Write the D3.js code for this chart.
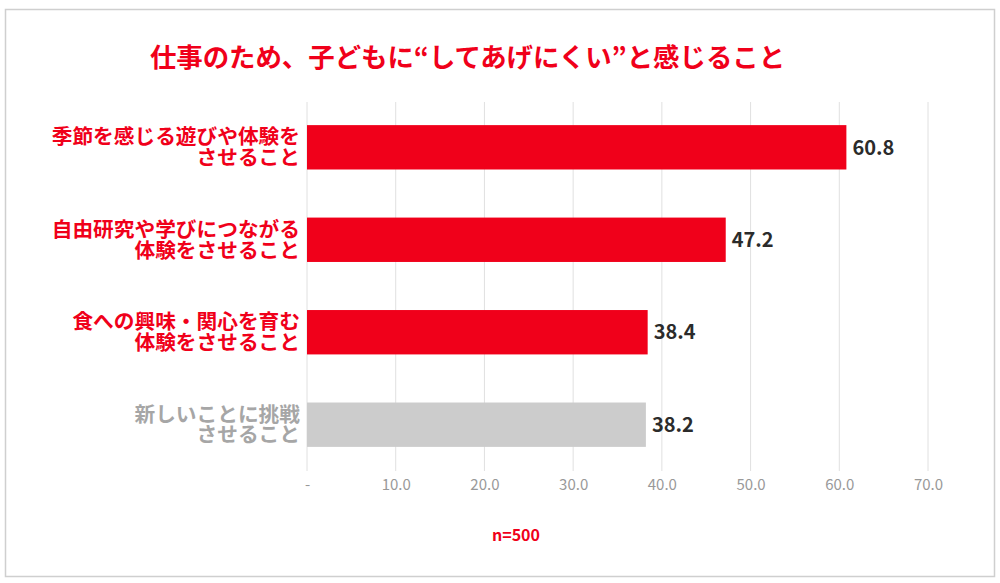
<!DOCTYPE html>
<html>
<head>
<meta charset="utf-8">
<script src="https://cdn.jsdelivr.net/npm/d3@7"></script>
<style>
  body { margin: 0; background: #fff; }
  text { font-family: "Noto Sans CJK JP", "Noto Sans", sans-serif; }
</style>
</head>
<body>
<div id="chart"></div>
<script>
const categories = [
    ["季節を感じる遊びや体験を", "させること"],
    ["自由研究や学びにつながる", "体験をさせること"],
    ["食への興味・関心を育む", "体験をさせること"],
    ["新しいことに挑戦", "させること"]
]
const values = [60.8, 47.2, 38.4, 38.2]
const highlight = [true, true, true, false]
const tickValues = [0, 10, 20, 30, 40, 50, 60, 70]
const title = "仕事のため、子どもに“してあげにくい”と感じること"
const note = "n=500"

const red = "#f0001a"
const grey = "#cccccc"

function init() {
    let svg = d3.select("#chart")
        .append("svg")
        .attr("width", 1000)
        .attr("height", 583)

    // frame
    svg.append("rect")
        .attr("x", 5.5)
        .attr("y", 9.5)
        .attr("width", 989)
        .attr("height", 567)
        .attr("fill", "#fff")
        .attr("stroke", "#cfcfcf")
        .attr("stroke-width", 1.5)

    svg.append("text")
        .attr("x", 467.5)
        .attr("y", 67)
        .attr("text-anchor", "middle")
        .attr("fill", red)
        .attr("font-size", 26.4)
        .attr("font-weight", 700)
        .text(title)

    let x = d3.scaleLinear().domain([0, 70]).range([307, 928])
    let y = d3.scaleBand()
        .domain(d3.range(categories.length))
        .range([102, 470])
        .paddingInner(0.52)
        .paddingOuter(0.25)

    // grid
    svg.append("g")
        .selectAll("line")
        .data(tickValues)
        .enter()
        .append("line")
        .attr("x1", d => x(d))
        .attr("x2", d => x(d))
        .attr("y1", 102)
        .attr("y2", 471)
        .attr("stroke", "#e0e0e0")
        .attr("stroke-width", 1)

    // x axis labels
    let axis = d3.axisBottom(x)
        .tickValues(tickValues)
        .tickSize(0)
        .tickPadding(0)
        .tickFormat(d => d === 0 ? "-" : d3.format(".1f")(d))
    let ax = svg.append("g")
        .attr("transform", "translate(0,479)")
        .call(axis)
    ax.select(".domain").remove()
    ax.selectAll("text")
        .attr("fill", "#999")
        .attr("font-size", 15)
        .attr("font-family", "\"Noto Sans CJK JP\", sans-serif")

    // bars
    svg.append("g")
        .selectAll("rect")
        .data(values)
        .enter()
        .append("rect")
        .attr("x", x(0))
        .attr("y", (d, i) => y(i))
        .attr("width", d => x(d) - x(0))
        .attr("height", y.bandwidth())
        .attr("fill", (d, i) => highlight[i] ? red : grey)

    // value labels
    svg.append("g")
        .selectAll("text")
        .data(values)
        .enter()
        .append("text")
        .attr("x", d => x(d) + 6)
        .attr("y", (d, i) => y(i) + y.bandwidth() / 2)
        .attr("dy", "0.36em")
        .attr("fill", "#2b2b2b")
        .attr("font-size", 20)
        .attr("font-weight", 700)
        .text(d => d3.format(".1f")(d))

    // category labels, two lines each
    let labels = svg.append("g")
        .selectAll("text")
        .data(categories)
        .enter()
        .append("text")
        .attr("text-anchor", "end")
        .attr("font-size", 20.7)
        .attr("font-weight", 700)
        .attr("fill", (d, i) => highlight[i] ? red : "#a6a6a6")
    labels.selectAll("tspan")
        .data((d, i) => d.map(t => ({ t: t, i: i })))
        .enter()
        .append("tspan")
        .attr("x", 300)
        .attr("y", (d, j) => y(d.i) + y.bandwidth() / 2 + (j === 0 ? -10.3 : 10.3))
        .attr("dy", "0.36em")
        .text(d => d.t)

    svg.append("text")
        .attr("x", 516)
        .attr("y", 535)
        .attr("dy", "0.36em")
        .attr("text-anchor", "middle")
        .attr("fill", red)
        .attr("font-size", 16)
        .attr("font-weight", 700)
        .text(note)
}

window.onload = init;
</script>
</body>
</html>
